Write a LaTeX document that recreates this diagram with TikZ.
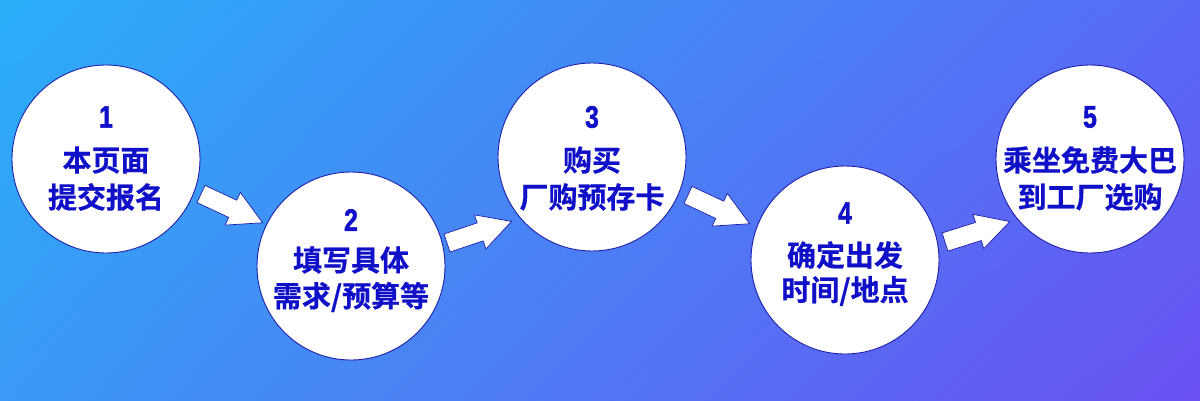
\documentclass[tikz,border=0pt]{standalone}
\usepackage{fontspec}
\usetikzlibrary{shadings}
\newfontfamily\cjk{Noto Sans CJK SC}[BoldFont={Noto Sans CJK SC Bold}, BoldFeatures={FakeBold=0.6}]
\newfontfamily\numfont{Liberation Sans}[BoldFeatures={FakeBold=1.8}]
\definecolor{bgUL}{RGB}{42,174,248}
\definecolor{bgUR}{RGB}{88,106,245}
\definecolor{bgLL}{RGB}{58,154,245}
\definecolor{bgLR}{RGB}{106,80,242}
\definecolor{ink}{RGB}{16,16,200}
\definecolor{rim}{RGB}{30,30,170}
\tikzset{
  stepcircle/.style={circle, fill=white, draw=rim, line width=0.9pt, minimum size=188pt, inner sep=0pt},
  numtxt/.style={text=ink, font=\numfont\bfseries\fontsize{31}{31}\selectfont, xscale=0.8, inner sep=0pt},
  linetxt/.style={text=ink, font=\cjk\bfseries\fontsize{29}{29}\selectfont, inner sep=0pt},
  blockarrow/.style={fill=white, draw=rim, line width=0.7pt, line join=miter}
}
\newcommand{\blockarr}[2]{%
  \begin{scope}[shift={#1}, rotate=#2]
    \draw[blockarrow] (0,9.5) -- (35,9.5) -- (35,18) -- (68,0) -- (35,-18) -- (35,-9.5) -- (0,-9.5) -- cycle;
  \end{scope}}
\begin{document}
\begin{tikzpicture}[x=1pt,y=-1pt]
\useasboundingbox (0,0) rectangle (1200,400);
\shade[upper left=bgUL, upper right=bgUR, lower left=bgLL, lower right=bgLR] (0,0) rectangle (1200,400);

% circles
\node[stepcircle] (c1) at (106,159) {};
\node[stepcircle] (c2) at (351,266) {};
\node[stepcircle] (c3) at (592,157) {};
\node[stepcircle] (c4) at (845,260) {};
\node[stepcircle] (c5) at (1090,159) {};

% texts
\node[numtxt]  (n1) at (106,117) {1};
\node[linetxt] (a1) at (106,160) {本页面};
\node[linetxt] (b1) at (106,197) {提交报名};

\node[numtxt]  (n2) at (351,220) {2};
\node[linetxt] (a2) at (351,260) {填写具体};
\node[linetxt] (b2) at (351,297) {需求/预算等};

\node[numtxt]  (n3) at (592,117) {3};
\node[linetxt] (a3) at (592,160) {购买};
\node[linetxt] (b3) at (592,197) {厂购预存卡};

\node[numtxt]  (n4) at (845,213) {4};
\node[linetxt] (a4) at (845,255) {确定出发};
\node[linetxt] (b4) at (845,291) {时间/地点};

\node[numtxt]  (n5) at (1090,117) {5};
\node[linetxt] (a5) at (1090,160) {乘坐免费大巴};
\node[linetxt] (b5) at (1090,197) {到工厂选购};

% arrows
\coordinate (t1) at (201,194);
\coordinate (t2) at (447,243);
\coordinate (t3) at (688,195);
\coordinate (t4) at (945,242);
\blockarr{(t1)}{-25}
\blockarr{(t2)}{18.5}
\blockarr{(t3)}{-25}
\blockarr{(t4)}{17.5}
\end{tikzpicture}
\end{document}
